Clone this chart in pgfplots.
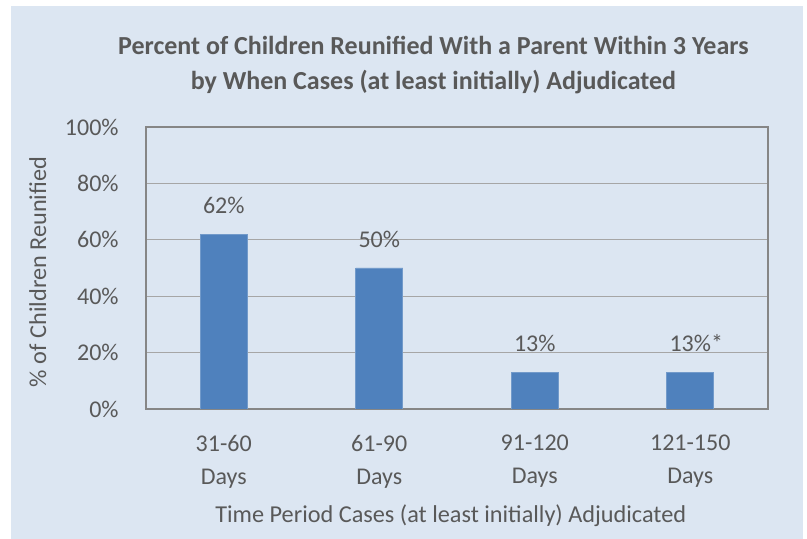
\documentclass[border=0pt]{standalone}
\usepackage{fontspec}
\setmainfont{Carlito}
\usepackage{pgfplots}
\pgfplotsset{compat=1.18}
\definecolor{bg}{HTML}{DCE6F2}
\definecolor{barc}{HTML}{4F81BD}
\definecolor{txt}{HTML}{595959}
\definecolor{gridc}{HTML}{A6A6A6}
\definecolor{framec}{HTML}{868686}
\begin{document}
\begin{tikzpicture}
\useasboundingbox (0pt,0pt) rectangle (605.25pt,404.25pt);
\fill[white] (0pt,0pt) rectangle (605.25pt,404.25pt);
\fill[bg] (8.25pt,0pt) rectangle (602.25pt,399.75pt);
\begin{axis}[
  at={(109.5pt,97.5pt)}, anchor=south west,
  scale only axis, width=466.5pt, height=211.5pt,
  xmin=-0.5, xmax=3.5, ymin=0, ymax=100,
  ytick={0,20,...,100},
  yticklabel={\pgfmathprintnumber{\tick}\%},
  xtick={0,1,2,3},
  xticklabels={31-60\\Days, 61-90\\Days, 91-120\\Days, 121-150\\Days},
  xticklabel style={align=center, font=\fontsize{18}{24.75}\selectfont, text=txt, yshift=-16pt},
  yticklabel style={font=\fontsize{18}{20}\selectfont, text=txt, xshift=-17pt},
  /pgf/number format/assume math mode=true,
  major tick length=0pt,
  ymajorgrids, grid style={gridc, line width=0.9pt},
  axis line style={framec, line width=1.1pt},
  ybar, bar width=35.25pt,
  point meta=explicit symbolic,
  nodes near coords,
  every node near coord/.append style={font=\fontsize{18}{20}\selectfont, text=txt, anchor=base, yshift=15.5pt},
  title={Percent of Children Reunified With a Parent Within 3 Years\\by When Cases (at least initially) Adjudicated},
  title style={at={(axis description cs:0.462,1.193)}, anchor=center, align=center,
    font=\fontsize{19.5}{26.25}\selectfont\bfseries, text=txt},
  xlabel={Time Period Cases (at least initially) Adjudicated},
  xlabel style={at={(axis description cs:0.490,-0.379)}, anchor=center, font=\fontsize{18.2}{20}\selectfont, text=txt},
  ylabel={\% of Children Reunified},
  ylabel style={at={(axis description cs:-0.174,0.486)}, anchor=center, font=\fontsize{18.2}{20}\selectfont, text=txt},
]
\addplot[fill=barc, draw=barc!80!white, line width=0.5pt] coordinates {
  (0,62) [62\%]
  (1,50) [50\%]
  (2,13) [13\%]
  (3,13) [13\%\rlap{*}]
};
\end{axis}
\end{tikzpicture}
\end{document}
